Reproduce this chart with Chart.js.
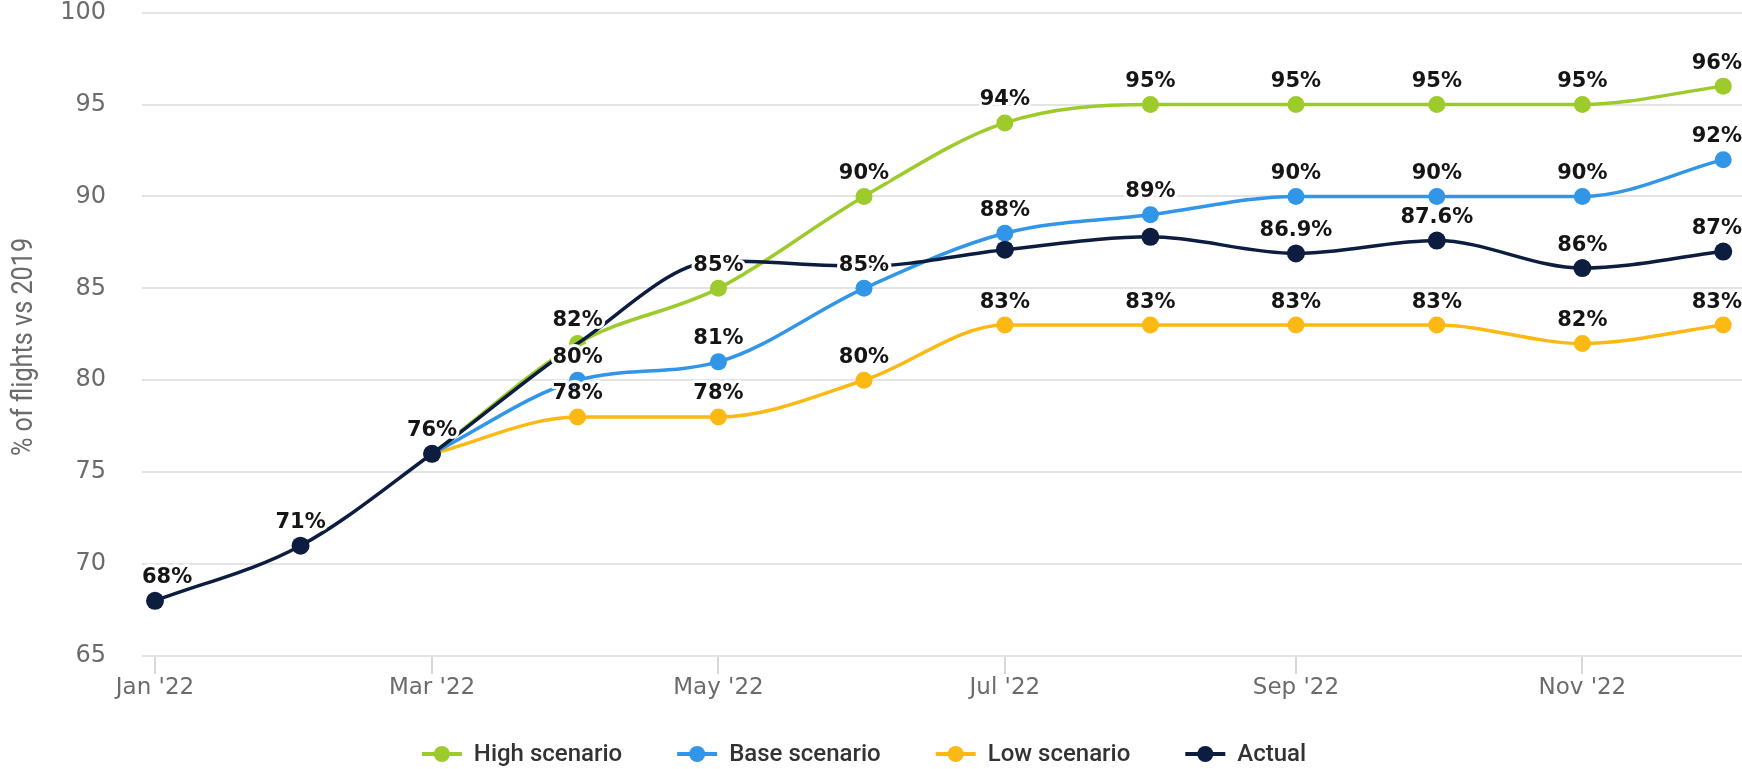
<!DOCTYPE html>
<html>
<head>
    <title>Flights vs 2019 - scenarios</title>
    <style>
        body {
            margin: 0;
            padding: 0;
            background-color: #fff;
        }
        #chart {
            display: block;
        }
    </style>
</head>
<body>
    <canvas id="chart" width="1742" height="769"></canvas>

    <script src="https://cdn.jsdelivr.net/npm/chart.js"></script>
    <script>
        // monthly points, 2022 (plotted on the 1st of each month)
        const months = ['Jan', 'Feb', 'Mar', 'Apr', 'May', 'Jun', 'Jul', 'Aug', 'Sep', 'Oct', 'Nov', 'Dec'];
        const tickMonths = [0, 2, 4, 6, 8, 10];
        const tickLabels = ["Jan '22", "Mar '22", "May '22", "Jul '22", "Sep '22", "Nov '22"];
        const yTitle = '% of flights vs 2019';

        const highValues   = [null, null, 76, 82, 85, 90, 94, 95, 95, 95, 95, 96];
        const baseValues   = [null, null, 76, 80, 81, 85, 88, 89, 90, 90, 90, 92];
        const lowValues    = [null, null, 76, 78, 78, 80, 83, 83, 83, 83, 82, 83];
        const actualValues = [68, 71, 76, 82, 86.5, 86.2, 87.1, 87.8, 86.9, 87.6, 86.1, 87];

        // text shown above the points (null = no label)
        const highLabels   = [null, null, null, '82%', '85%', '90%', '94%', '95%', '95%', '95%', '95%', '96%'];
        const baseLabels   = [null, null, null, '80%', '81%', '85%', '88%', '89%', '90%', '90%', '90%', '92%'];
        const lowLabels    = [null, null, null, '78%', '78%', '80%', '83%', '83%', '83%', '83%', '82%', '83%'];
        const actualLabels = ['68%', '71%', '76%', null, null, null, null, null, '86.9%', '87.6%', '86%', '87%'];

        const seriesNames = ['High scenario', 'Base scenario', 'Low scenario', 'Actual'];
        const colors = ['#9ccb2b', '#3196e8', '#fcb813', '#0c1d40'];

        // day of year for the 1st of each month
        const dayOf = months.map((m, i) => (Date.UTC(2022, i, 1) - Date.UTC(2022, 0, 1)) / 86400000);
        const toPoints = vals => vals.map((v, i) => ({ x: dayOf[i], y: v }));

        // value labels with white halo, kept inside the plot area
        const pointLabels = {
            id: 'pointLabels',
            afterDatasetsDraw(chart) {
                const ctx = chart.ctx;
                const area = chart.chartArea;
                ctx.save();
                ctx.font = 'bold 21px "DejaVu Sans"';
                ctx.textAlign = 'center';
                ctx.textBaseline = 'middle';
                ctx.lineJoin = 'round';
                chart.data.datasets.forEach((ds, di) => {
                    const meta = chart.getDatasetMeta(di);
                    ds.pointLabels.forEach((txt, i) => {
                        if (!txt) return;
                        const pt = meta.data[i];
                        const half = ctx.measureText(txt).width / 2;
                        let x = Math.max(pt.x, area.left + half);
                        x = Math.min(x, area.right - half);
                        const y = pt.y - 23;
                        ctx.strokeStyle = '#fff';
                        ctx.lineWidth = 6;
                        ctx.strokeText(txt, x, y);
                        ctx.fillStyle = '#151515';
                        ctx.fillText(txt, x, y);
                    });
                });
                ctx.restore();
            }
        };

        // narrow rotated axis title
        const axisTitle = {
            id: 'axisTitle',
            afterDraw(chart) {
                const ctx = chart.ctx;
                ctx.save();
                ctx.translate(32, 347);
                ctx.rotate(-Math.PI / 2);
                ctx.scale(0.84, 1);
                ctx.font = '30px Roboto';
                ctx.fillStyle = '#6b6b6b';
                ctx.textAlign = 'center';
                ctx.textBaseline = 'alphabetic';
                ctx.fillText(yTitle, 0, 0);
                ctx.restore();
            }
        };

        // legend drawn by hand: line + dot icon, wide gaps
        const lineLegend = {
            id: 'lineLegend',
            afterDraw(chart) {
                const ctx = chart.ctx;
                const iconW = 40, gap = 12, spacing = 55, y = 754;
                ctx.save();
                ctx.font = '500 24px Roboto';
                ctx.textBaseline = 'middle';
                const widths = chart.data.datasets.map(ds => iconW + gap + ctx.measureText(ds.label).width);
                const total = widths.reduce((a, b) => a + b, 0) + spacing * (widths.length - 1);
                let x = chart.width / 2 - total / 2 - 7;
                chart.data.datasets.forEach((ds, i) => {
                    ctx.strokeStyle = ds.borderColor;
                    ctx.lineWidth = 4;
                    ctx.beginPath();
                    ctx.moveTo(x, y);
                    ctx.lineTo(x + iconW, y);
                    ctx.stroke();
                    ctx.fillStyle = ds.borderColor;
                    ctx.beginPath();
                    ctx.arc(x + iconW / 2, y, 8, 0, Math.PI * 2);
                    ctx.fill();
                    ctx.fillStyle = '#333';
                    ctx.fillText(ds.label, x + iconW + gap, y + 1);
                    x += widths[i] + spacing;
                });
                ctx.restore();
            }
        };

        const valueSets = [highValues, baseValues, lowValues, actualValues];
        const labelSets = [highLabels, baseLabels, lowLabels, actualLabels];

        const datasets = seriesNames.map((name, i) => ({
            label: name,
            data: toPoints(valueSets[i]),
            pointLabels: labelSets[i],
            borderColor: colors[i],
            backgroundColor: colors[i],
            pointBackgroundColor: colors[i],
            pointBorderWidth: 0,
            pointRadius: i === 3 ? (c => [3, 4, 5].includes(c.dataIndex) ? 0 : 9) : 8.5,
            borderWidth: 3.5,
            cubicInterpolationMode: 'monotone',
            order: i === 3 ? 0 : 1
        }));

        const ctx = document.getElementById('chart').getContext('2d');
        new Chart(ctx, {
            type: 'line',
            data: { datasets: datasets },
            options: {
                responsive: false,
                animation: false,
                layout: { autoPadding: false, padding: { top: 0, right: 0, bottom: 65, left: 0 } },
                plugins: {
                    legend: { display: false },
                    tooltip: { enabled: false }
                },
                scales: {
                    x: {
                        type: 'linear',
                        min: -2.77,
                        max: 338,
                        afterBuildTicks: scale => {
                            scale.ticks = tickMonths.map(m => ({ value: dayOf[m] }));
                        },
                        afterFit: scale => { scale.height = 48; },
                        ticks: {
                            padding: 0,
                            color: '#6b6b6b',
                            font: { family: 'DejaVu Sans', size: 23 },
                            callback: (v, idx) => tickLabels[idx]
                        },
                        grid: {
                            drawOnChartArea: false,
                            tickLength: 18,
                            color: '#d8d8d8',
                            lineWidth: 2
                        },
                        border: { display: false }
                    },
                    y: {
                        min: 65,
                        max: 100,
                        afterFit: scale => { scale.width = 142; },
                        ticks: {
                            stepSize: 5,
                            padding: 0,
                            color: '#6b6b6b',
                            font: { family: 'DejaVu Sans', size: 24, lineHeight: 1.05 }
                        },
                        grid: {
                            drawTicks: true,
                            tickLength: 36,
                            tickColor: 'rgba(0,0,0,0)',
                            color: '#e4e4e4',
                            lineWidth: 2
                        },
                        border: { display: false }
                    }
                }
            },
            plugins: [pointLabels, axisTitle, lineLegend]
        });
    </script>
</body>
</html>
